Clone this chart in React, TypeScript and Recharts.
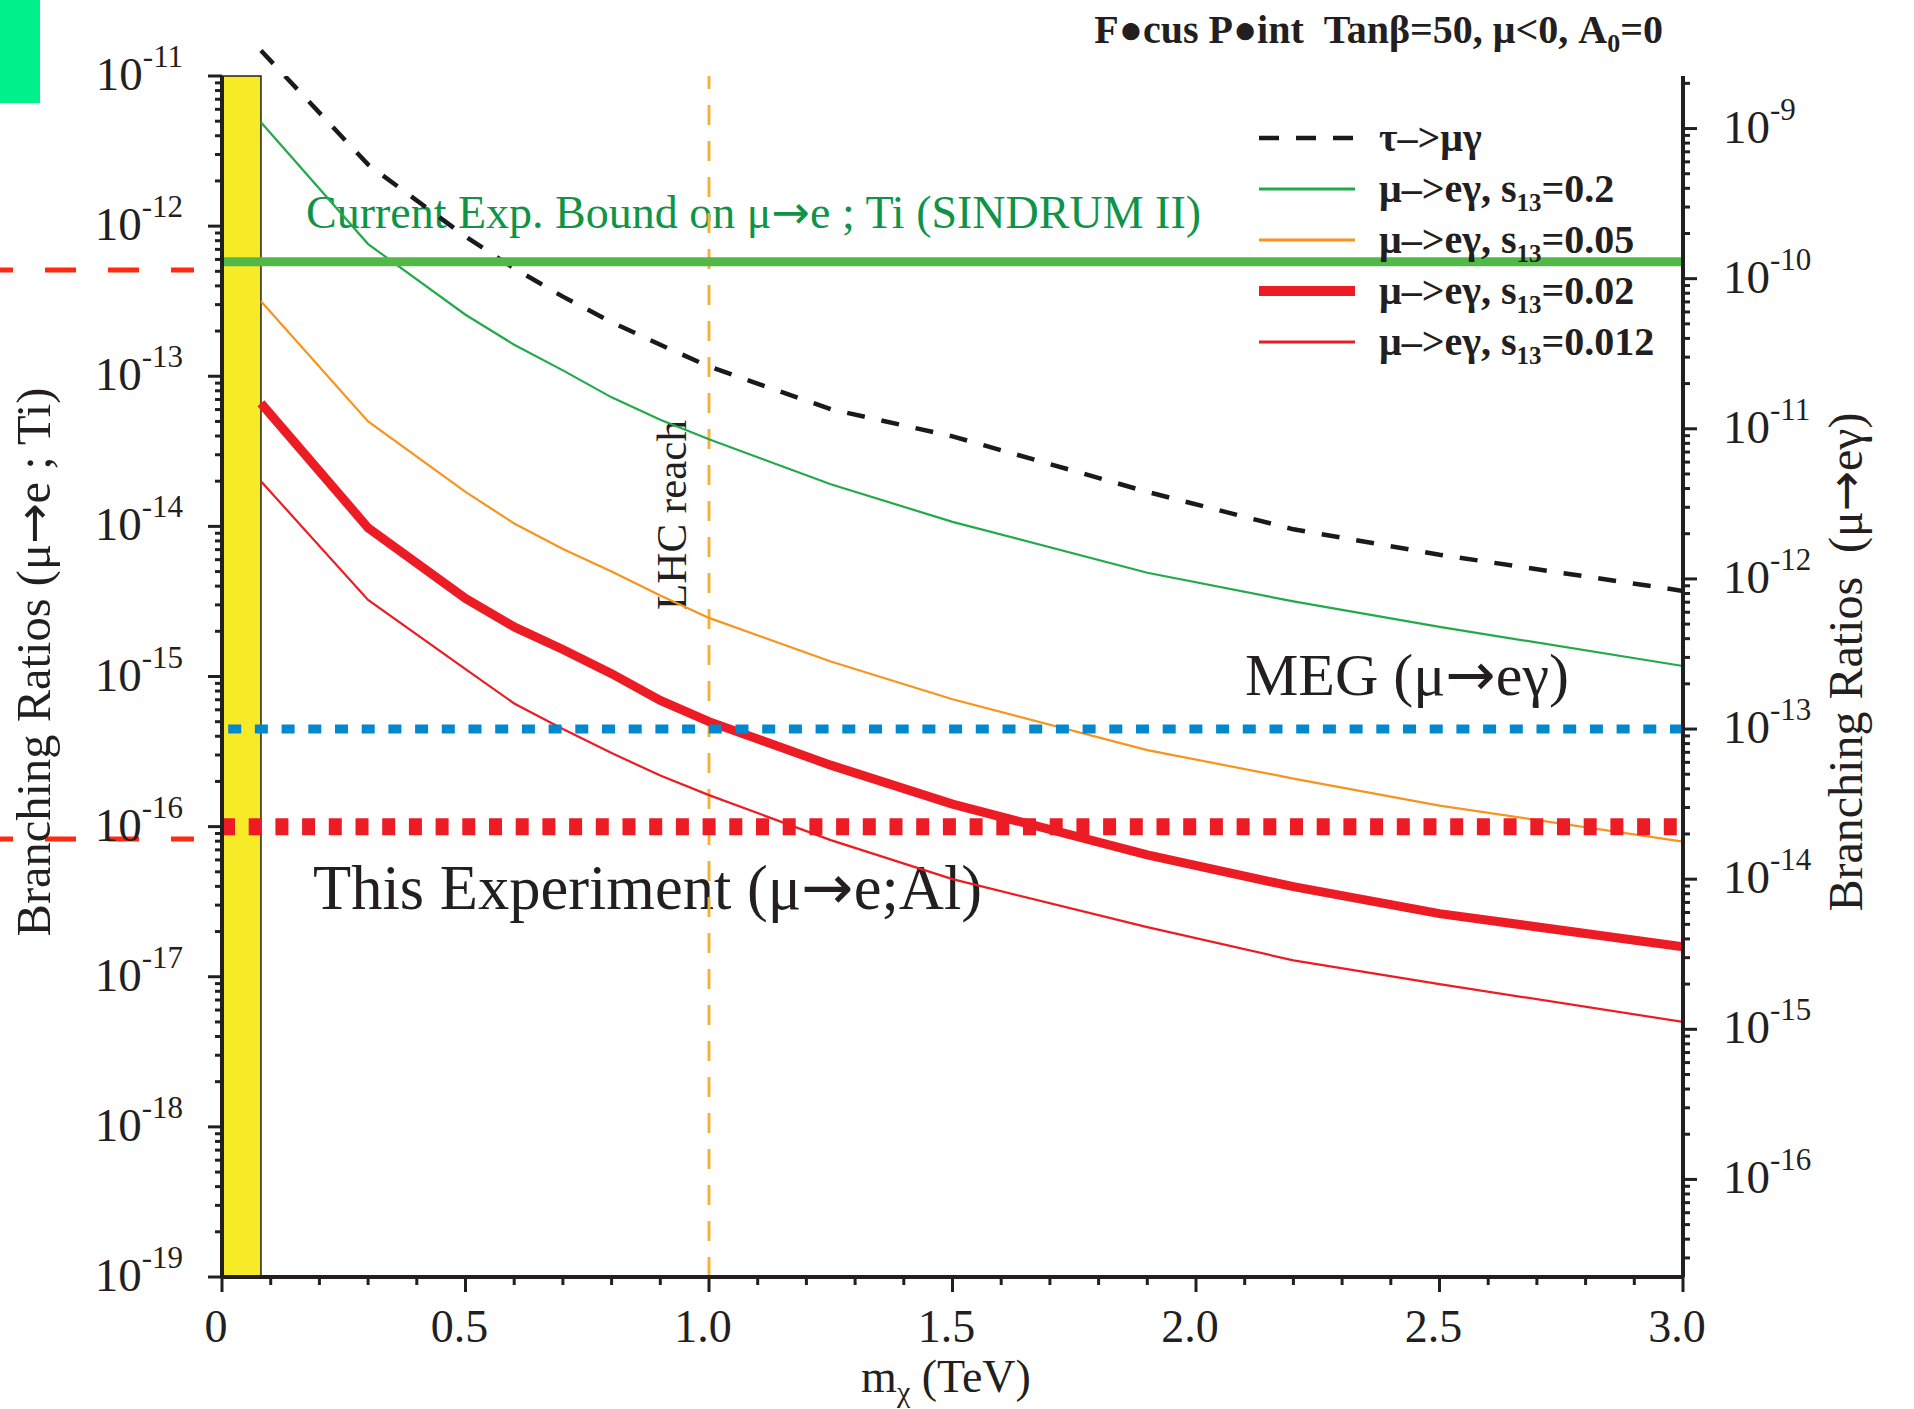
import React from 'react';
import {
  LineChart,
  Line,
  XAxis,
  YAxis,
  ReferenceLine,
  ReferenceArea,
  Legend,
} from 'recharts';

const W = 1914;
const H = 1409;
const FONT = '"Liberation Serif", "Times New Roman", serif';
const ARROW_FONT = '"DejaVu Sans", sans-serif';
const INK = '#231f20';

// neutralino mass m_chi (TeV)
const mass = [0.08, 0.3, 0.5, 0.6, 0.7, 0.8, 0.9, 1.0, 1.25, 1.5, 1.9, 2.2, 2.5, 3.0];

// right axis: BR(mu -> e gamma), and tau -> mu gamma
const tauMuGamma = [3.31e-9, 5.75e-10, 1.91e-10, 1.17e-10, 7.59e-11, 5.13e-11, 3.63e-11, 2.6e-11, 1.35e-11, 8.91e-12, 3.8e-12, 2.14e-12, 1.45e-12, 8.32e-13];
const muEGammaS020 = [1.1e-9, 1.7e-10, 5.75e-11, 3.63e-11, 2.45e-11, 1.62e-11, 1.15e-11, 8.51e-12, 4.27e-12, 2.4e-12, 1.1e-12, 7.08e-13, 4.79e-13, 2.63e-13];
const muEGammaS005 = [7.08e-11, 1.12e-11, 3.8e-12, 2.34e-12, 1.58e-12, 1.12e-12, 7.76e-13, 5.5e-13, 2.82e-13, 1.58e-13, 7.24e-14, 4.68e-14, 3.09e-14, 1.78e-14];
const muEGammaS002 = [1.48e-11, 2.19e-12, 7.41e-13, 4.79e-13, 3.39e-13, 2.34e-13, 1.55e-13, 1.12e-13, 5.75e-14, 3.16e-14, 1.45e-14, 8.91e-15, 5.89e-15, 3.55e-15];
const muEGammaS0012 = [4.47e-12, 7.24e-13, 2.51e-13, 1.48e-13, 1.0e-13, 6.92e-14, 4.9e-14, 3.63e-14, 1.82e-14, 1.0e-14, 4.79e-15, 2.88e-15, 2.0e-15, 1.12e-15];

// bounds
const sindrumBound = 5.8e-13; // left axis, mu -> e ; Ti
const megBound = 1e-13; // right axis, mu -> e gamma
const thisExperiment = 1e-16; // left axis, mu -> e ; Al
const lhcReach = 1.0;
const excludedMax = 0.08;

const xMajorTicks = [0, 0.5, 1.0, 1.5, 2.0, 2.5, 3.0];
const xMajorLabels = ['0', '0.5', '1.0', '1.5', '2.0', '2.5', '3.0'];
const xMinorTicks = [0.1, 0.2, 0.3, 0.4, 0.6, 0.7, 0.8, 0.9, 1.1, 1.2, 1.3, 1.4, 1.6, 1.7, 1.8, 1.9, 2.1, 2.2, 2.3, 2.4, 2.6, 2.7, 2.8, 2.9];
const leftDecades = [-19, -18, -17, -16, -15, -14, -13, -12, -11];
const rightDecades = [-17, -16, -15, -14, -13, -12, -11, -10, -9];

const leftDomain = [1e-19, 1e-11];
const rightDomain = [10 ** -16.65, 10 ** -8.65];

const series = [
  { key: 'tau', name: 'τ–>μγ', stroke: '#1a1a1a', width: 4.5, dash: '18 17', legendWidth: 4.5 },
  { key: 's020', name: 'μ–>eγ, s13=0.2', stroke: '#22aa4a', width: 2.2, legendWidth: 3 },
  { key: 's005', name: 'μ–>eγ, s13=0.05', stroke: '#f7941d', width: 2.2, legendWidth: 3 },
  { key: 's002', name: 'μ–>eγ, s13=0.02', stroke: '#ed1c24', width: 9, legendWidth: 10 },
  { key: 's0012', name: 'μ–>eγ, s13=0.012', stroke: '#ed1c24', width: 2.2, legendWidth: 3 },
];

const rows = mass.map((m, i) => ({
  m,
  tau: tauMuGamma[i],
  s020: muEGammaS020[i],
  s005: muEGammaS005[i],
  s002: muEGammaS002[i],
  s0012: muEGammaS0012[i],
}));

const logTicks = (decades: number[], lo: number, hi: number) =>
  decades
    .flatMap((d) => [1, 2, 3, 4, 5, 6, 7, 8, 9].map((k) => k * 10 ** d))
    .filter((v) => v >= lo * 0.999 && v <= hi * 1.001);

const leftTicks = logTicks(leftDecades, leftDomain[0], leftDomain[1]);
const rightTicks = logTicks(rightDecades, rightDomain[0], rightDomain[1]);
const xTicks = [...xMajorTicks, ...xMinorTicks].sort((a, b) => a - b);

const isDecade = (v: number) => Math.abs(Math.log10(v) - Math.round(Math.log10(v))) < 1e-6;

// where the tau curve leaves the frame at the top (drawn outside the clip)
const tauTop = rightDomain[1];
const tauCrossX =
  mass[0] +
  ((mass[1] - mass[0]) * (Math.log10(tauTop) - Math.log10(tauMuGamma[0]))) /
    (Math.log10(tauMuGamma[1]) - Math.log10(tauMuGamma[0]));

const Arrow = () => <tspan fontFamily={ARROW_FONT}>→</tspan>;

const PowerLabel = ({ x, y, exp, anchor }: any) => (
  <text x={x} y={y + 14} textAnchor={anchor} fontFamily={FONT} fontSize={47} fill={INK}>
    10
    <tspan dy={-23} fontSize={31}>
      {exp}
    </tspan>
  </text>
);

const LeftTick = (props: any) => {
  const { x, y, payload } = props;
  const v = payload.value;
  const major = isDecade(v);
  return (
    <g>
      <line x1={x} x2={x - (major ? 14 : 7)} y1={y} y2={y} stroke={INK} strokeWidth={3} />
      {major && <PowerLabel x={x - 39} y={y} exp={String(Math.round(Math.log10(v)))} anchor="end" />}
    </g>
  );
};

const RightTick = (props: any) => {
  const { x, y, payload } = props;
  const v = payload.value;
  const major = isDecade(v);
  return (
    <g>
      <line x1={x} x2={x + (major ? 14 : 7)} y1={y} y2={y} stroke={INK} strokeWidth={3} />
      {major && <PowerLabel x={x + 40} y={y} exp={String(Math.round(Math.log10(v)))} anchor="start" />}
    </g>
  );
};

const BottomTick = (props: any) => {
  const { x, y, payload } = props;
  const idx = xMajorTicks.findIndex((t) => Math.abs(t - payload.value) < 1e-9);
  const major = idx >= 0;
  return (
    <g>
      <line x1={x} x2={x} y1={y} y2={y + (major ? 15 : 8)} stroke={INK} strokeWidth={3} />
      {major && (
        <text x={x - 6} y={y + 65} textAnchor="middle" fontFamily={FONT} fontSize={46} fill={INK}>
          {xMajorLabels[idx]}
        </text>
      )}
    </g>
  );
};

const TopTick = (props: any) => {
  const { x, y, payload } = props;
  const major = xMajorTicks.some((t) => Math.abs(t - payload.value) < 1e-9);
  return <line x1={x} x2={x} y1={y} y2={y - (major ? 15 : 8)} stroke={INK} strokeWidth={3} />;
};

const LegendName = ({ name, x, y }: { name: string; x: number; y: number }) => {
  const parts = name.split('s13');
  return (
    <text x={x} y={y} fontFamily={FONT} fontSize={40} fontWeight="bold" fill={INK}>
      {parts[0]}
      {parts.length > 1 && (
        <>
          s
          <tspan dy={9} fontSize={25}>
            13
          </tspan>
          <tspan dy={-9}>{parts[1]}</tspan>
        </>
      )}
    </text>
  );
};

const LegendBox = () => (
  <svg width={470} height={260} style={{ overflow: 'visible', display: 'block' }}>
    {series.map((s, i) => {
      const cy = 26 + i * 51;
      return (
        <g key={s.key}>
          <line
            x1={9}
            x2={105}
            y1={cy}
            y2={cy}
            stroke={s.stroke}
            strokeWidth={s.legendWidth}
            strokeDasharray={s.dash ? '20 17' : undefined}
          />
          <LegendName name={s.name} x={129} y={cy + 13} />
        </g>
      );
    })}
  </svg>
);

const Annotations = () => (
  <svg width={W} height={H} style={{ position: 'absolute', left: 0, top: 0 }}>
    <rect x={0} y={0} width={40} height={103} fill="#00f08c" />
    <line x1={0} x2={194} y1={270} y2={270} stroke="#ff2a10" strokeWidth={5} strokeDasharray="31 32" strokeDashoffset={18} />
    <line x1={0} x2={194} y1={839} y2={839} stroke="#ff2a10" strokeWidth={5} strokeDasharray="31 32" strokeDashoffset={18} />

    <text x={1663} y={43} textAnchor="end" fontFamily={FONT} fontSize={40} fontWeight="bold" fill={INK}>
      F●cus P●int{'\u00A0\u00A0'}Tanβ=50, μ&lt;0, A
      <tspan dy={9} fontSize={26}>
        0
      </tspan>
      <tspan dy={-9}>=0</tspan>
    </text>

    <text x={306} y={228} fontFamily={FONT} fontSize={46} fill="#0f9447">
      Current Exp. Bound on μ<Arrow />e ; Ti (SINDRUM II)
    </text>
    <text x={686} y={515} transform="rotate(-90 686 515)" textAnchor="middle" fontFamily={FONT} fontSize={43} fill={INK}>
      LHC reach
    </text>
    <text x={1245} y={695} fontFamily={FONT} fontSize={60} fill={INK}>
      MEG (μ<Arrow />eγ)
    </text>
    <text x={313} y={909} fontFamily={FONT} fontSize={62.5} fill={INK}>
      This Experiment (μ<Arrow />e;Al)
    </text>

    <text x={946} y={1392} textAnchor="middle" fontFamily={FONT} fontSize={46} fill={INK}>
      m
      <tspan dy={10} fontSize={30}>
        χ
      </tspan>
      <tspan dy={-10}> (TeV)</tspan>
    </text>
    <text x={50} y={662} transform="rotate(-90 50 662)" textAnchor="middle" fontFamily={FONT} fontSize={48.5} fill={INK}>
      Branching Ratios (μ<Arrow />e ; Ti)
    </text>
    <text x={1862} y={662} transform="rotate(-90 1862 662)" textAnchor="middle" fontFamily={FONT} fontSize={48} fill={INK}>
      Branching Ratios{'\u00A0\u00A0'}(μ<Arrow />eγ)
    </text>
  </svg>
);

export default function App() {
  return (
    <div style={{ position: 'absolute', left: 0, top: 0, width: W, height: H, background: '#fff' }}>
      <Annotations />
      <div style={{ position: 'absolute', left: 0, top: 0 }}>
        <LineChart width={W} height={H} data={rows} margin={{ top: 76, right: 0, bottom: 0, left: 0 }}>
          <XAxis
            xAxisId="bottom"
            dataKey="m"
            type="number"
            domain={[0, 3]}
            allowDataOverflow
            ticks={xTicks}
            interval={0}
            height={132}
            tickSize={0}
            tickMargin={0}
            tickLine={false}
            axisLine={{ stroke: INK, strokeWidth: 4 }}
            tick={BottomTick}
          />
          <XAxis
            xAxisId="top"
            orientation="top"
            dataKey="m"
            type="number"
            domain={[0, 3]}
            allowDataOverflow
            ticks={xTicks}
            interval={0}
            height={0}
            tickSize={0}
            tickMargin={0}
            tickLine={false}
            axisLine={{ stroke: INK, strokeWidth: 4 }}
            tick={TopTick}
          />
          <YAxis
            yAxisId="left"
            scale="log"
            domain={leftDomain}
            allowDataOverflow
            ticks={leftTicks}
            interval={0}
            width={222}
            tickSize={0}
            tickMargin={0}
            tickLine={false}
            axisLine={{ stroke: INK, strokeWidth: 4 }}
            tick={LeftTick}
          />
          <YAxis
            yAxisId="right"
            orientation="right"
            scale="log"
            domain={rightDomain}
            allowDataOverflow
            ticks={rightTicks}
            interval={0}
            width={231}
            tickSize={0}
            tickMargin={0}
            tickLine={false}
            axisLine={{ stroke: INK, strokeWidth: 4 }}
            tick={RightTick}
          />

          <ReferenceArea
            xAxisId="bottom"
            yAxisId="left"
            x1={0}
            x2={excludedMax}
            fill="#f7ea27"
            fillOpacity={1}
            stroke={INK}
            strokeWidth={1.5}
          />
          <ReferenceLine xAxisId="bottom" yAxisId="left" x={lhcReach} stroke="#f0b43c" strokeWidth={3} strokeDasharray="20 16" />

          {series.map((s) => (
            <Line
              key={s.key}
              xAxisId="bottom"
              yAxisId="right"
              dataKey={s.key}
              name={s.name}
              type="linear"
              stroke={s.stroke}
              strokeWidth={s.width}
              strokeDasharray={s.dash}
              dot={false}
              activeDot={false}
              isAnimationActive={false}
            />
          ))}
          <ReferenceLine
            xAxisId="bottom"
            yAxisId="right"
            ifOverflow="visible"
            segment={[
              { x: mass[0], y: tauMuGamma[0] },
              { x: tauCrossX, y: tauTop },
            ]}
            stroke="#1a1a1a"
            strokeWidth={4.5}
            strokeDasharray="18 17"
          />

          <ReferenceLine xAxisId="bottom" yAxisId="left" y={sindrumBound} stroke="#52b848" strokeWidth={9} />
          <ReferenceLine xAxisId="bottom" yAxisId="right" y={megBound} stroke="#0089cf" strokeWidth={9} strokeDasharray="13 13.7" />
          <ReferenceLine xAxisId="bottom" yAxisId="left" y={thisExperiment} stroke="#ed1c24" strokeWidth={17} strokeDasharray="13 13.7" />

          <Legend
            layout="vertical"
            align="center"
            verticalAlign="middle"
            wrapperStyle={{ left: 1250, top: 112, width: 470, height: 260 }}
            content={() => <LegendBox />}
          />
        </LineChart>
      </div>
    </div>
  );
}
